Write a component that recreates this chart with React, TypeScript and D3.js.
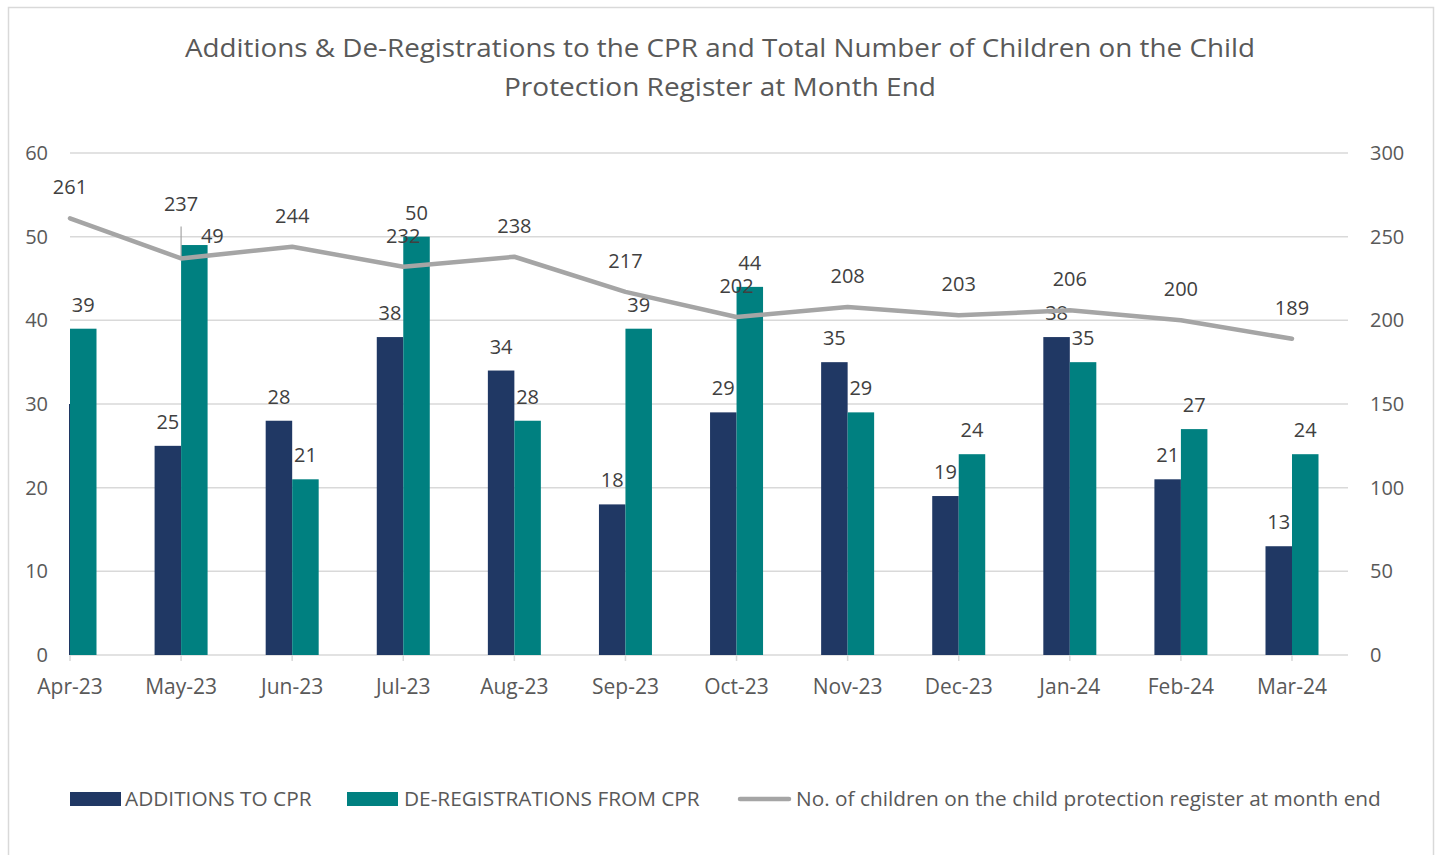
import React from "react";
import * as d3 from "d3";

const months = ["Apr-23","May-23","Jun-23","Jul-23","Aug-23","Sep-23","Oct-23","Nov-23","Dec-23","Jan-24","Feb-24","Mar-24"];
const additions = [30,25,28,38,34,18,29,35,19,38,21,13];
const deregistrations = [39,49,21,50,28,39,44,29,24,35,27,24];
const totalOnRegister = [261,237,244,232,238,217,202,208,203,206,200,189];
const leftTicks = [0,10,20,30,40,50,60];
const rightTicks = [0,50,100,150,200,250,300];

const W = 1438, H = 855;
const plotLeft = 70, plotRight = 1348, plotTop = 153, plotBottom = 655;
const FONT = "'Open Sans', sans-serif";
const TXT = "#595959";
const LBL = "#404040";
const NAVY = "#203864";
const TEAL = "#008080";
const GREY = "#A5A5A5";
const GRID = "#D9D9D9";

export default function App() {
  const step = (1292 - plotLeft) / (months.length - 1);
  const x = d3.scalePoint<string>().domain(months).range([plotLeft, plotLeft + step * (months.length - 1)]);
  const yL = d3.scaleLinear().domain([0, 60]).range([plotBottom, plotTop]);
  const yR = d3.scaleLinear().domain([0, 300]).range([plotBottom, plotTop]);
  const barW = 26.5;
  const line = d3.line<number>().x((_, i) => x(months[i])!).y(d => yR(d));

  return (
    <svg width={W} height={H} style={{ position: "absolute", left: 0, top: 0, background: "#fff" }} fontFamily={FONT}>
      <defs>
        <clipPath id="plotclip">
          <rect x={plotLeft - 1} y={0} width={plotRight - plotLeft + 1} height={plotBottom} />
        </clipPath>
      </defs>
      <rect x={8.5} y={7.5} width={1425} height={880} fill="#fff" stroke={GRID} strokeWidth={1.5} />
      <text x={720} y={57} textAnchor="middle" fontSize={26} fill={TXT} textLength={1070} lengthAdjust="spacingAndGlyphs">Additions &amp; De-Registrations to the CPR and Total Number of Children on the Child</text>
      <text x={720} y={96} textAnchor="middle" fontSize={26} fill={TXT} textLength={432} lengthAdjust="spacingAndGlyphs">Protection Register at Month End</text>

      {leftTicks.map(t => (
        <g key={"g" + t}>
          {t > 0 && <line x1={plotLeft} x2={plotRight} y1={yL(t)} y2={yL(t)} stroke={GRID} strokeWidth={1.5} />}
          <text x={48} y={yL(t) + 7} textAnchor="end" fontSize={20} fill={TXT}>{t}</text>
        </g>
      ))}
      {rightTicks.map(t => (
        <text key={"r" + t} x={1370} y={yR(t) + 7} textAnchor="start" fontSize={20} fill={TXT}>{t}</text>
      ))}
      <line x1={plotLeft} x2={plotRight} y1={plotBottom} y2={plotBottom} stroke={GRID} strokeWidth={1.5} />
      {months.map(m => (
        <g key={"t" + m}>
          <line x1={x(m)} x2={x(m)} y1={plotBottom} y2={plotBottom + 6} stroke={GRID} strokeWidth={1.5} />
          <text x={x(m)} y={plotBottom + 39} textAnchor="middle" fontSize={21} fill={TXT}>{m}</text>
        </g>
      ))}

      <g clipPath="url(#plotclip)">
        {months.map((m, i) => (
          <g key={"b" + m}>
            <rect x={x(m)! - barW} y={yL(additions[i])} width={barW} height={plotBottom - yL(additions[i])} fill={NAVY} />
            <rect x={x(m)!} y={yL(deregistrations[i])} width={barW} height={plotBottom - yL(deregistrations[i])} fill={TEAL} />
          </g>
        ))}
      </g>
      {months.map((m, i) => {
        const moved = i === 1;
        const dx = moved ? x(m)! + barW / 2 + 18 : x(m)! + barW / 2;
        const dy = moved ? yL(deregistrations[i]) - 2 : yL(deregistrations[i]) - 17;
        return (
          <g key={"bl" + m}>
            {i > 0 && <text x={x(m)! - barW / 2} y={yL(additions[i]) - 17} textAnchor="middle" fontSize={20} fill={LBL}>{additions[i]}</text>}
            <text x={dx} y={dy} textAnchor="middle" fontSize={20} fill={LBL}>{deregistrations[i]}</text>
          </g>
        );
      })}

      <path d={line(totalOnRegister)!} fill="none" stroke={GREY} strokeWidth={4.5} strokeLinejoin="round" strokeLinecap="round" />
      {months.map((m, i) => {
        const special = i === 1;
        const ly = special ? yR(totalOnRegister[i]) - 47 : yR(totalOnRegister[i]) - 24;
        return (
          <g key={"ll" + m}>
            {special && <line x1={x(m)} x2={x(m)} y1={ly + 15} y2={yR(totalOnRegister[i])} stroke={GREY} strokeWidth={1.2} />}
            <text x={x(m)} y={ly} textAnchor="middle" fontSize={20} fill={LBL}>{totalOnRegister[i]}</text>
          </g>
        );
      })}

      <g fontSize={20.8} fill={TXT}>
        <rect x={70} y={792} width={51} height={14} fill={NAVY} />
        <text x={125} y={806}>ADDITIONS TO CPR</text>
        <rect x={347} y={792} width={51} height={14} fill={TEAL} />
        <text x={404} y={806}>DE-REGISTRATIONS FROM CPR</text>
        <line x1={740} x2={789} y1={799} y2={799} stroke={GREY} strokeWidth={4.5} strokeLinecap="round" />
        <text x={796} y={806}>No. of children on the child protection register at month end</text>
      </g>
    </svg>
  );
}
